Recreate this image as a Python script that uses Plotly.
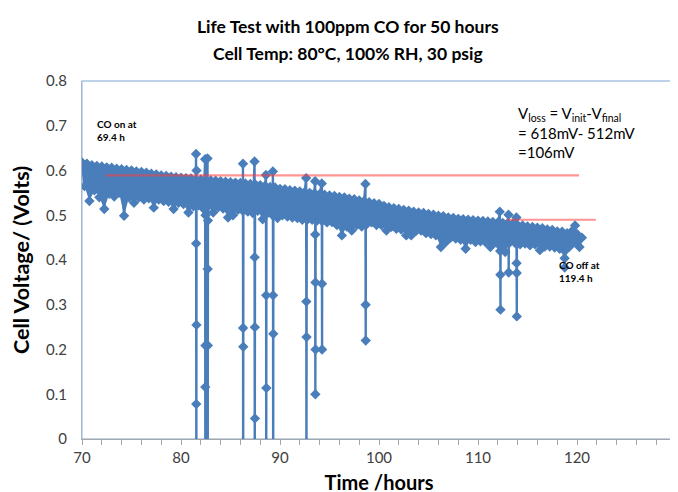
import plotly.graph_objects as go
import pandas as pd

# Main band readings: time (hours) and cell voltage (V)
band_hours = [
    70.0, 70.25, 70.5, 70.75, 71.0, 71.25, 71.5, 71.75, 72.0, 72.25, 72.5, 72.75,
    73.0, 73.25, 73.5, 73.75, 74.0, 74.25, 74.5, 74.75, 75.0, 75.25, 75.5, 75.75,
    76.0, 76.25, 76.5, 76.75, 77.0, 77.25, 77.5, 77.75, 78.0, 78.25, 78.5, 78.75,
    79.0, 79.25, 79.5, 79.75, 80.0, 80.25, 80.5, 80.75, 81.0, 81.25, 81.5, 81.75,
    82.0, 82.25, 82.5, 82.75, 83.0, 83.25, 83.5, 83.75, 84.0, 84.25, 84.5, 84.75,
    85.0, 85.25, 85.5, 85.75, 86.0, 86.25, 86.5, 86.75, 87.0, 87.25, 87.5, 87.75,
    88.0, 88.25, 88.5, 88.75, 89.0, 89.25, 89.5, 89.75, 90.0, 90.25, 90.5, 90.75,
    91.0, 91.25, 91.5, 91.75, 92.0, 92.25, 92.5, 92.75, 93.0, 93.25, 93.5, 93.75,
    94.0, 94.25, 94.5, 94.75, 95.0, 95.25, 95.5, 95.75, 96.0, 96.25, 96.5, 96.75,
    97.0, 97.25, 97.5, 97.75, 98.0, 98.25, 98.5, 98.75, 99.0, 99.25, 99.5, 99.75,
    100.0, 100.25, 100.5, 100.75, 101.0, 101.25, 101.5, 101.75, 102.0, 102.25, 102.5, 102.75,
    103.0, 103.25, 103.5, 103.75, 104.0, 104.25, 104.5, 104.75, 105.0, 105.25, 105.5, 105.75,
    106.0, 106.25, 106.5, 106.75, 107.0, 107.25, 107.5, 107.75, 108.0, 108.25, 108.5, 108.75,
    109.0, 109.25, 109.5, 109.75, 110.0, 110.25, 110.5, 110.75, 111.0, 111.25, 111.5, 111.75,
    112.0, 112.25, 112.5, 112.75, 113.0, 113.25, 113.5, 113.75, 114.0, 114.25, 114.5, 114.75,
    115.0, 115.25, 115.5, 115.75, 116.0, 116.25, 116.5, 116.75, 117.0, 117.25, 117.5, 117.75,
    118.0, 118.25, 118.5, 118.75, 119.0, 119.25, 119.5, 119.75, 120.0, 120.25, 120.5,
]
band_volts = [
    0.618, 0.565, 0.615, 0.532, 0.612, 0.556, 0.610, 0.540, 0.609, 0.514, 0.607, 0.548,
    0.606, 0.542, 0.604, 0.550, 0.603, 0.499, 0.601, 0.540, 0.600, 0.528, 0.598, 0.540,
    0.597, 0.535, 0.595, 0.538, 0.593, 0.517, 0.591, 0.535, 0.589, 0.532, 0.588, 0.530,
    0.586, 0.514, 0.585, 0.528, 0.584, 0.525, 0.583, 0.506, 0.582, 0.520, 0.580, 0.522,
    0.580, 0.515, 0.579, 0.520, 0.578, 0.506, 0.577, 0.518, 0.576, 0.515, 0.575, 0.495,
    0.574, 0.500, 0.573, 0.512, 0.572, 0.510, 0.571, 0.508, 0.570, 0.505, 0.569, 0.510,
    0.567, 0.491, 0.566, 0.505, 0.563, 0.500, 0.562, 0.494, 0.559, 0.500, 0.558, 0.497,
    0.556, 0.495, 0.555, 0.494, 0.553, 0.490, 0.552, 0.490, 0.550, 0.490, 0.549, 0.488,
    0.547, 0.487, 0.546, 0.484, 0.544, 0.485, 0.543, 0.478, 0.541, 0.455, 0.540, 0.475,
    0.537, 0.466, 0.536, 0.478, 0.533, 0.475, 0.532, 0.480, 0.529, 0.484, 0.527, 0.478,
    0.525, 0.478, 0.521, 0.466, 0.518, 0.474, 0.516, 0.470, 0.514, 0.468, 0.512, 0.455,
    0.510, 0.455, 0.508, 0.465, 0.506, 0.466, 0.505, 0.460, 0.503, 0.458, 0.501, 0.455,
    0.499, 0.429, 0.498, 0.440, 0.495, 0.450, 0.494, 0.448, 0.492, 0.445, 0.491, 0.425,
    0.490, 0.445, 0.489, 0.440, 0.488, 0.442, 0.487, 0.440, 0.486, 0.429, 0.485, 0.440,
    0.484, 0.440, 0.483, 0.418, 0.482, 0.440, 0.481, 0.438, 0.478, 0.435, 0.477, 0.437,
    0.475, 0.433, 0.474, 0.435, 0.472, 0.422, 0.471, 0.430, 0.468, 0.430, 0.467, 0.428,
    0.464, 0.425, 0.463, 0.404, 0.460, 0.430, 0.465, 0.440, 0.458, 0.429, 0.450,
]

# Transient excursions (voltage drops / spikes)
spike_hours = [
    81.52, 81.53, 81.54, 81.55, 81.56, 81.57, 81.58,
    82.44, 82.45, 82.46, 82.47, 82.48,
    82.68, 82.69, 82.70, 82.71, 82.72,
    86.26, 86.27, 86.28, 86.29, 86.30,
    87.43, 87.44, 87.45, 87.46, 87.47, 87.48,
    88.58, 88.60, 88.61, 88.62, 88.63,
    89.28, 89.30, 89.31, 89.32, 89.33,
    92.64, 92.66, 92.67, 92.68, 92.70,
    93.55, 93.56, 93.57, 93.58, 93.59, 93.60,
    94.22, 94.24, 94.25, 94.26,
    98.63, 98.65, 98.66, 98.67,
    112.20, 112.24, 112.26, 112.27, 112.28,
    113.08, 113.10, 113.11,
    113.88, 113.90, 113.91, 113.92, 113.93,
    118.76, 118.77, 119.80, 119.82,
]
spike_volts = [
    0.637, 0.437, 0.078, -0.10, 0.255, 0.600, 0.560,
    0.625, 0.116, -0.10, 0.209, 0.500,
    0.627, 0.380, -0.10, 0.209, 0.488,
    0.615, 0.248, -0.10, 0.206, 0.520,
    0.620, 0.406, -0.10, 0.250, 0.046, 0.520,
    0.590, 0.321, -0.10, 0.114, 0.510,
    0.598, 0.321, -0.10, 0.235, 0.510,
    0.583, 0.307, -0.10, 0.228, 0.500,
    0.576, 0.457, 0.100, 0.350, 0.200, 0.490,
    0.571, 0.347, 0.200, 0.490,
    0.570, 0.300, 0.220, 0.480,
    0.508, 0.420, 0.367, 0.289, 0.430,
    0.501, 0.372, 0.440,
    0.495, 0.393, 0.371, 0.274, 0.440,
    0.383, 0.420, 0.477, 0.445,
]

# Reference (red) lines
ref1_hours = [72.4, 120.2]
ref1_volts = [0.589, 0.589]
ref2_hours = [112.9, 121.9]
ref2_volts = [0.490, 0.490]

x_ticks = [70, 80, 90, 100, 110, 120, 130]
y_ticks = [0, 0.1, 0.2, 0.3, 0.4, 0.5, 0.6, 0.7, 0.8]
y_tick_text = ["0", "0.1", "0.2", "0.3", "0.4", "0.5", "0.6", "0.7", "0.8"]

df = pd.DataFrame({"h": band_hours + spike_hours, "v": band_volts + spike_volts})
df = df.sort_values("h", kind="stable")

BLUE = "#4A7EBB"
FONT = "Lato"

fig = go.Figure()
# dense band: area between the high and low readings of the zig-zag
fig.add_trace(go.Scatter(
    x=band_hours[0::2], y=band_volts[0::2], mode="lines",
    line=dict(color=BLUE, width=0), showlegend=False, hoverinfo="skip",
))
fig.add_trace(go.Scatter(
    x=band_hours[1::2], y=band_volts[1::2], mode="lines",
    line=dict(color=BLUE, width=0), fill="tonexty", fillcolor=BLUE,
    showlegend=False, hoverinfo="skip",
))
fig.add_trace(go.Scatter(
    x=df["h"], y=df["v"], mode="lines+markers",
    line=dict(color=BLUE, width=2.4),
    marker=dict(symbol="diamond", size=8, color=BLUE),
    showlegend=False, hoverinfo="x+y",
))
for hx, vy in ((ref1_hours, ref1_volts), (ref2_hours, ref2_volts)):
    fig.add_trace(go.Scatter(
        x=hx, y=vy, mode="lines",
        line=dict(color="rgba(255,60,60,0.55)", width=2.2),
        showlegend=False, hoverinfo="skip",
    ))

fig.update_layout(
    width=678, height=492,
    margin=dict(l=74, r=10, t=73, b=55),
    paper_bgcolor="white", plot_bgcolor="white",
    font=dict(family=FONT, color="#333333"),
    xaxis=dict(
        range=[70, 130], tickvals=x_ticks, showgrid=False, zeroline=False,
        showline=True, linecolor="#A6A6A6", linewidth=1,
        ticks="outside", ticklen=5, tickcolor="#A6A6A6",
        minor=dict(dtick=2, ticks="outside", ticklen=5, tickcolor="#A6A6A6", showgrid=False),
        tickfont=dict(size=15, color="#404040", family=FONT),
        title=dict(text="<b>Time /hours</b>", font=dict(size=20, color="#000000", family=FONT), standoff=10),
    ),
    yaxis=dict(
        range=[0, 0.8], tickvals=y_ticks, ticktext=y_tick_text, showgrid=False, zeroline=False,
        showline=True, linecolor="#A6B8D0", linewidth=1, ticks="", ticklabelstandoff=11,
        tickfont=dict(size=15, color="#404040", family=FONT),
        title=dict(text="<b>Cell Voltage/ (Volts)</b>", font=dict(size=21.5, color="#000000", family=FONT), standoff=10),
    ),
    shapes=[dict(type="rect", xref="paper", yref="paper", x0=0, y0=0, x1=1, y1=1,
                 line=dict(color="#A9C3E3", width=1.3), layer="below")],
    annotations=[
        dict(x=0.448, y=1.151, xref="paper", yref="paper", xanchor="center", yanchor="middle", showarrow=False,
             text="<b>Life Test with 100ppm CO for 50 hours</b>", font=dict(size=17.5, color="#000000", family=FONT)),
        dict(x=0.448, y=1.077, xref="paper", yref="paper", xanchor="center", yanchor="middle", showarrow=False,
             text="<b>Cell Temp: 80°C, 100% RH, 30 psig</b>", font=dict(size=17.5, color="#000000", family=FONT)),
        dict(x=71.3, y=0.690, xref="x", yref="y", xanchor="left", yanchor="middle", showarrow=False,
             align="left", text="<b>CO on at<br>69.4 h</b>", font=dict(size=10, color="#000000", family=FONT)),
        dict(x=118.0, y=0.375, xref="x", yref="y", xanchor="left", yanchor="middle", showarrow=False,
             align="left", text="<b>CO off at<br>119.4 h</b>", font=dict(size=10, color="#000000", family=FONT)),
        dict(x=113.8, y=0.753, xref="x", yref="y", xanchor="left", yanchor="top", showarrow=False,
             align="left",
             text="V<sub>loss</sub> = V<sub>init</sub>-V<sub>final</sub><br>= 618mV- 512mV<br>=106mV",
             font=dict(size=15, color="#000000", family=FONT)),
    ],
)

fig.write_html("out.html")
